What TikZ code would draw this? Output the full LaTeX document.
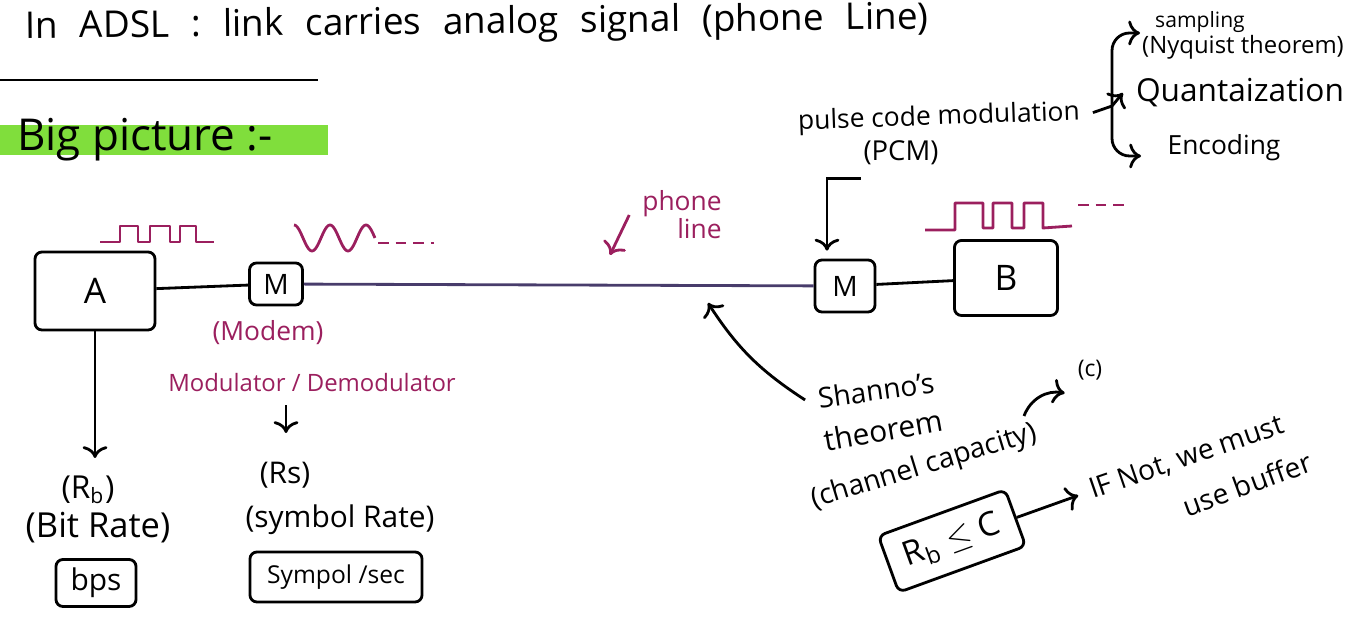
\documentclass[tikz,border=0pt]{standalone}
\usepackage{amsmath}
\usepackage{amssymb}
\usepackage{fontspec}
\setmainfont{Open Sans}
\usepackage[HTML]{xcolor}
\usetikzlibrary{positioning, arrows, arrows.meta}

\definecolor{plum}{HTML}{9B1F5E}
\definecolor{wire}{HTML}{483C6B}
\definecolor{marker}{HTML}{80DE3C}

\begin{document}
\begin{tikzpicture}[x=0.01cm, y=-0.01cm, thick,
    box/.style={draw, thick, rounded corners=2pt, inner sep=1pt},
    wave/.style={plum, thick, line join=round}]
\useasboundingbox (0,0) rectangle (1366,619);

% heading
\node[anchor=west, rotate=0.6, font=\fontsize{10.5}{12}\selectfont] (title) at (12,29)
  {\spaceskip=6.2pt In ADSL : link carries analog signal (phone Line)};
\draw (0,80) -- (318,80);
\fill[marker] (0,125) rectangle (328,155);
\node[anchor=west, font=\fontsize{12.5}{14}\selectfont] (big) at (4,140) {Big picture :-};

% end systems and modems
\node[box, minimum width=1.2cm, minimum height=0.78cm, font=\fontsize{10}{12}\selectfont] (A) at (95,291) {A};
\node[box, minimum width=0.53cm, minimum height=0.42cm, font=\fontsize{8}{10}\selectfont] (M1) at (276,284) {M};
\node[box, minimum width=0.6cm, minimum height=0.52cm, font=\fontsize{8}{10}\selectfont] (M2) at (845,286) {M};
\node[box, minimum width=1.03cm, minimum height=0.75cm, font=\fontsize{10}{12}\selectfont] (B) at (1006,278) {B};

\draw (A) -- (M1);
\draw[wire] (M1) -- (M2);
\draw (M2) -- (B);

% signals
\draw[wave] (100,242) -- (120,242) -- (120,226) -- (138,226) -- (138,242) -- (150,242) -- (150,226)
  -- (170,226) -- (170,242) -- (180,242) -- (180,226) -- (196,226) -- (196,242) -- (214,242);
\draw[wave] plot[domain=0:2.25, samples=80] ({294+36*\x}, {238-13*cos(360*\x)});
\draw[wave, dash pattern=on 3pt off 2pt] (378,243) -- (434,243);
\draw[wave] (925,230) -- (955,230) -- (955,203) -- (983,203) -- (983,228) -- (993,228) -- (993,203)
  -- (1012,203) -- (1012,228) -- (1024,228) -- (1024,203) -- (1043,203) -- (1043,228) -- (1072,226);
\draw[wave, dash pattern=on 3pt off 2pt] (1078,205) -- (1124,205);

\node[plum, font=\fontsize{7.5}{8}\selectfont, align=right] (phone) at (682,215) {phone\\line};
\coordinate (plTip) at (610,255);
\draw[->, plum] (phone.west) -- (plTip);

% modem side
\node[plum, font=\fontsize{7.5}{9}\selectfont] (modem) at (268,333) {(Modem)};
\node[plum, font=\fontsize{6.8}{8}\selectfont] (moddesc) at (312,383) {Modulator / Demodulator};
\coordinate (rsTop) at (286,433);
\draw[->] (moddesc.south -| rsTop) -- (rsTop);
\node[font=\fontsize{8.5}{10}\selectfont] (Rs) at (285,475) {(Rs)};
\node[font=\fontsize{8.5}{10}\selectfont] (symrate) at (340,520) {(symbol Rate)};
\node[box, minimum width=1.72cm, minimum height=0.5cm, font=\fontsize{7}{8}\selectfont] (sps) at (336,577) {Sympol /sec};

% bit rate
\coordinate (rbTop) at (95,458);
\draw[->] (A.south) -- (rbTop);
\node[font=\fontsize{9}{10}\selectfont] (Rb) at (88,490) {(R\textsubscript{b})};
\node[font=\fontsize{9.8}{11}\selectfont] (bitrate) at (98,528) {(Bit Rate)};
\node[box, minimum width=0.8cm, minimum height=0.47cm, font=\fontsize{8.5}{10}\selectfont] (bps) at (96,583) {bps};

% PCM
\node[font=\fontsize{7.5}{9}\selectfont, rotate=2] (pcm) at (939,118) {pulse code modulation};
\node[font=\fontsize{7.8}{9}\selectfont] (PCM) at (901,153) {(PCM)};
\draw[->, shorten >=0.08cm] ([xshift=-0.4cm]PCM.south) -| ([xshift=-0.18cm]M2.north);

\node[font=\fontsize{6}{7}\selectfont] (samp) at (1200,22) {sampling};
\node[font=\fontsize{6.8}{8}\selectfont] (nyq) at (1243,47) {(Nyquist theorem)};
\node[font=\fontsize{9}{10}\selectfont] (quant) at (1240,93) {Quantaization};
\node[font=\fontsize{7.5}{9}\selectfont] (enc) at (1224,148) {Encoding};

\coordinate (fork) at (1112,106);
\coordinate (sampIn) at (1140,33);
\coordinate (encIn) at (1141,156);
\draw (pcm.east) -- (fork);
\draw[->, rounded corners=5pt] (fork) |- (sampIn);
\draw[->] (fork) -- (quant.west);
\draw[->, rounded corners=5pt] (fork) |- (encIn);

% channel capacity
\node[font=\fontsize{8}{9}\selectfont, rotate=8] (shan) at (876,390) {Shanno's};
\node[font=\fontsize{8.5}{10}\selectfont, rotate=10] (thm) at (883,430) {theorem};
\node[font=\fontsize{8}{9}\selectfont, rotate=17] (cap) at (924,467) {(channel capacity)};
\node[font=\fontsize{6.5}{8}\selectfont] (cc) at (1090,370) {(c)};
\coordinate (capTop) at (1024,416);
\draw[->] (capTop) to[bend left=40] (cc.south west);

\coordinate (tap) at (708,303);
\draw[->] (shan.west) to[bend left=12] (tap);

\node[box, rotate=20, minimum width=1.35cm, minimum height=0.6cm, font=\fontsize{9.5}{11}\selectfont] (cond) at (952,541) {R\textsubscript{b} $\leq$ C};
\node[font=\fontsize{8}{9}\selectfont, rotate=19] (ifnot) at (1187,458) {IF Not, we must};
\node[font=\fontsize{8}{9}\selectfont, rotate=20] (buf) at (1247,484) {use buffer};
\draw[->] (cond.east) -- (ifnot.west);
\end{tikzpicture}
\end{document}
